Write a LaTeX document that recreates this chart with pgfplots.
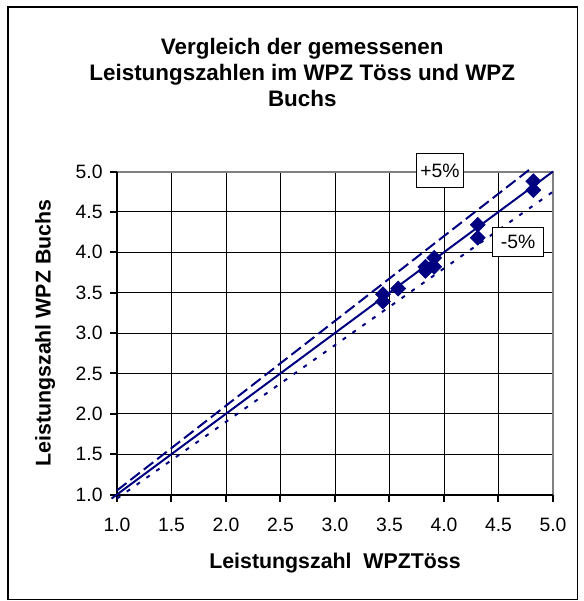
\documentclass[border=0pt]{standalone}
\usepackage{fontspec}
\setmainfont{Liberation Sans}
\usepackage{pgfplots}
\pgfplotsset{compat=1.18}
\definecolor{navy}{HTML}{000080}
\definecolor{bordergray}{HTML}{808080}
\begin{document}
\begin{tikzpicture}
\begin{axis}[
  scale only axis,
  width=327pt, height=242.25pt,
  xmin=1, xmax=5, ymin=1, ymax=5,
  xtick={1,1.5,2,2.5,3,3.5,4,4.5,5},
  ytick={1,1.5,2,2.5,3,3.5,4,4.5,5},
  grid=major,
  major grid style={black, line width=0.6pt},
  axis line style={draw=none},
  tick align=outside, tick pos=left,
  major tick length=5.25pt,
  tick style={black, line width=1.5pt},
  clip=false,
  /pgf/number format/assume math mode=true,
  xticklabel style={font=\fontsize{14.5}{16}\selectfont, yshift=-9pt, /pgf/number format/.cd, fixed, fixed zerofill, precision=1},
  yticklabel style={font=\fontsize{14.5}{16}\selectfont, xshift=-2pt, /pgf/number format/.cd, fixed, fixed zerofill, precision=1},
]
% plot area border
\draw[bordergray, line width=1.5pt] (rel axis cs:0,1) -- (rel axis cs:1,1) -- (rel axis cs:1,0);
\draw[black, line width=1.5pt] (rel axis cs:0,1) -- (rel axis cs:0,0) -- (rel axis cs:1,0);

\addplot[navy, line width=1.5pt] coordinates {(0.95,0.95) (5,5)};
\addplot[navy, line width=1.5pt, dash pattern=on 9pt off 3.75pt] coordinates {(1,1.05) (4.8,5.04)};
\addplot[navy, line width=1.5pt, dash pattern=on 3pt off 6pt] coordinates {(1,0.95) (5,4.75)};
\addplot[only marks, mark=square*, mark size=4pt, mark options={rotate=45, fill=navy, draw=navy}] coordinates {
  (3.44,3.48) (3.44,3.39) (3.58,3.55) (3.83,3.77) (3.83,3.82)
  (3.91,3.93) (3.91,3.82) (4.31,4.34) (4.31,4.18) (4.82,4.88) (4.82,4.77)
};

\node[draw=black, fill=white, line width=0.75pt, minimum width=35.25pt, minimum height=25.5pt, inner sep=0pt, font=\fontsize{14.5}{16}\selectfont] at (axis cs:3.963,5.01) {+5\%};
\node[draw=black, fill=white, line width=0.75pt, minimum width=38.25pt, minimum height=21.75pt, inner sep=0pt, font=\fontsize{14.5}{16}\selectfont] at (axis cs:4.68,4.13) {-5\%};

\node[font=\bfseries\fontsize{16}{19}\selectfont] at (rel axis cs:0.5,-0.212) {Leistungszahl\ \ WPZTöss};
\node[rotate=90, font=\bfseries\fontsize{16}{19}\selectfont] at (rel axis cs:-0.165,0.5) {Leistungszahl WPZ Buchs};
\node[align=center, font=\bfseries\fontsize{16.8}{19.5}\selectfont] at (rel axis cs:0.425,1.308) {Vergleich der gemessenen\\Leistungszahlen im WPZ Töss und WPZ\\Buchs};

\draw[black, line width=1pt] (rel axis cs:-0.25,-0.325) rectangle (rel axis cs:1.057,1.509);
\path (rel axis cs:-0.2683,-0.3297) rectangle (rel axis cs:1.0711,1.5310);
\end{axis}
\end{tikzpicture}
\end{document}
